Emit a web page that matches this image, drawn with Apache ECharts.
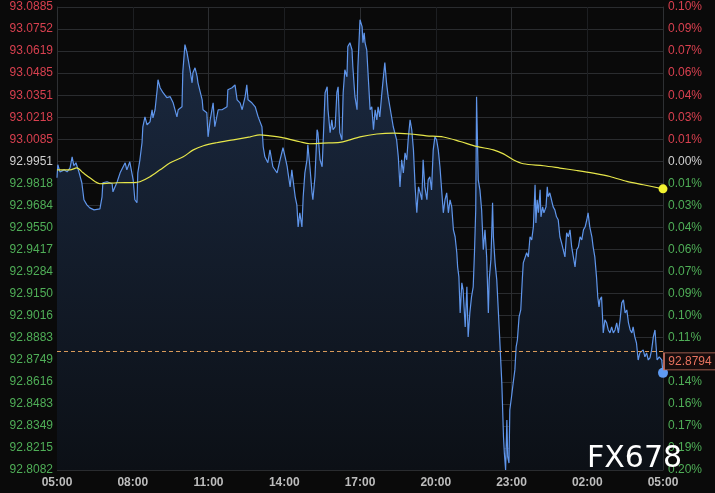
<!DOCTYPE html>
<html><head><meta charset="utf-8">
<style>html,body{margin:0;padding:0;background:#0a0a0a;}#c{width:715px;height:493px;}</style>
<script src="https://cdn.jsdelivr.net/npm/echarts@6/dist/echarts.min.js"></script>
</head><body><div id="c"></div>
<script>
const xTicks = ['05:00','08:00','11:00','14:00','17:00','20:00','23:00','02:00','05:00'];
const leftTicks = ['92.8082','92.8215','92.8349','92.8483','92.8616','92.8749','92.8883','92.9016','92.9150','92.9284','92.9417','92.9550','92.9684','92.9818','92.9951','93.0085','93.0218','93.0351','93.0485','93.0619','93.0752','93.0885'];
const rightTicks = ['0.20%','0.19%','0.17%','0.16%','0.14%','0.13%','0.11%','0.10%','0.09%','0.07%','0.06%','0.04%','0.03%','0.01%','0.00%','0.01%','0.03%','0.04%','0.06%','0.07%','0.09%','0.10%'];
const refPrice = 92.9951;
const lastPrice = 92.8794;
const watermark = 'FX678';

// minutes after 05:00
const times = [0,2,7,17,24,31,36,40,45,52,
59,64,71,78,88,102,107,109,119,131,
133,143,150,162,166,173,181,185,190,192,
197,202,204,209,214,221,226,228,233,238,
240,245,252,261,269,276,285,288,297,299,
304,309,311,316,321,323,328,333,335,345,
347,356,359,364,371,375,383,392,404,406,
416,423,428,435,440,447,451,454,463,471,
478,487,490,494,501,506,513,523,530,537,
542,547,549,554,558,566,570,573,577,582,
585,589,594,596,601,606,608,613,618,620,
625,630,632,637,642,644,649,653,656,661,
665,668,672,677,680,684,689,691,696,701,
703,708,713,715,720,725,727,730,732,736,
740,744,748,752,756,760,763,767,772,775,
779,783,787,791,795,799,803,807,811,815,
819,823,827,831,835,839,843,847,851,855,
859,863,867,870,874,879,882,886,890,894,
898,902,906,910,914,918,922,926,930,934,
938,942,946,950,952,955,958,962,965,970,
974,977,981,985,989,992,995,997,1001,1005,
1009,1013,1017,1021,1025,1027,1031,1033,1035,1037,
1041,1045,1047,1051,1054,1057,1061,1063,1066,1069,
1071,1074,1076,1080,1084,1088,1091,1094,1098,1102,
1106,1108,1112,1116,1120,1124,1128,1132,1136,1138,
1141,1144,1148,1150,1154,1157,1162,1165,1167,1171,
1175,1179,1183,1187,1191,1195,1199,1203,1207,1211,
1215,1219,1223,1227,1231,1235,1239,1243,1247,1251,
1255,1259,1262,1266,1271,1274,1278,1282,1285,1288,
1290,1294,1297,1298,1302,1306,1310,1314,1318,1322,
1326,1330,1334,1338,1342,1346,1350,1354,1358,1362,
1366,1369,1373,1377,1381,1385,1389,1393,1397,1401,
1405,1409,1413,1417,1421,1423,1426,1431,1435,1437,1440];

const prices = [92.9851,92.9930,92.9887,92.9899,92.9887,92.9911,92.9978,92.9924,92.9942,92.9887,
92.9821,92.9718,92.9687,92.9669,92.9657,92.9663,92.9736,92.9821,92.9827,92.9815,
92.9766,92.9827,92.9881,92.9942,92.9899,92.9948,92.9839,92.9718,92.9700,92.9881,
92.9960,93.0063,93.0160,93.0220,93.0172,93.0190,93.0263,93.0214,93.0263,93.0384,
93.0445,93.0396,93.0366,93.0336,93.0342,93.0305,93.0220,93.0263,93.0281,93.0493,
93.0657,93.0608,93.0578,93.0505,93.0426,93.0487,93.0517,93.0463,93.0426,93.0323,
93.0263,93.0245,93.0099,93.0202,93.0305,93.0160,93.0263,93.0263,93.0281,93.0384,
93.0396,93.0414,93.0323,93.0305,93.0263,93.0342,93.0414,93.0323,93.0305,93.0281,
93.0220,93.0160,93.0039,92.9978,92.9942,93.0020,92.9918,92.9881,92.9960,93.0033,
92.9978,92.9918,92.9881,92.9796,92.9899,92.9736,92.9687,92.9554,92.9639,92.9554,
92.9736,92.9881,92.9960,93.0051,92.9918,92.9760,92.9718,92.9857,93.0142,93.0124,
92.9960,92.9918,93.0039,93.0366,93.0402,93.0263,93.0124,93.0202,93.0142,93.0160,
93.0366,93.0402,93.0124,93.0081,93.0366,93.0505,93.0463,93.0645,93.0669,93.0626,
93.0523,93.0342,93.0263,93.0523,93.0808,93.0766,93.0669,93.0729,93.0669,93.0626,
93.0445,93.0263,93.0281,93.0142,93.0263,93.0202,93.0281,93.0220,93.0366,93.0445,
93.0548,93.0426,93.0342,93.0281,93.0281,93.0160,93.0160,93.0081,92.9978,92.9796,
92.9960,92.9881,93.0002,92.9960,93.0099,93.0202,93.0142,93.0020,92.9796,92.9639,
92.9796,92.9760,92.9718,92.9960,92.9796,92.9718,92.9839,92.9857,92.9778,93.0020,
93.0099,93.0081,93.0020,92.9918,92.9778,92.9639,92.9718,92.9760,92.9639,92.9718,
92.9675,92.9536,92.9494,92.9397,92.9312,92.9251,92.9033,92.9215,92.9172,92.8948,
92.9191,92.8888,92.9033,92.9130,92.9191,92.9397,92.9657,93.0342,92.9839,92.9778,
92.9657,92.9415,92.9536,92.9372,92.9033,92.9233,92.9354,92.9518,92.9700,92.9494,
92.9336,92.9233,92.9130,92.8930,92.8767,92.8609,92.8282,92.8185,92.8082,92.8385,
92.8161,92.8124,92.8446,92.8524,92.8609,92.8688,92.8827,92.8870,92.9009,92.9051,
92.9251,92.9336,92.9336,92.9397,92.9372,92.9494,92.9475,92.9554,92.9809,92.9578,
92.9718,92.9639,92.9778,92.9615,92.9675,92.9639,92.9675,92.9796,92.9736,92.9760,
92.9718,92.9675,92.9657,92.9615,92.9597,92.9494,92.9457,92.9415,92.9372,92.9518,
92.9494,92.9536,92.9433,92.9372,92.9312,92.9415,92.9433,92.9494,92.9475,92.9536,
92.9554,92.9597,92.9639,92.9554,92.9494,92.9433,92.9372,92.9251,92.9130,92.9069,
92.9112,92.9130,92.8973,92.8912,92.8991,92.8973,92.8930,92.8912,92.8948,92.8912,
92.8930,92.8973,92.8912,92.8991,92.9094,92.9112,92.9033,92.9051,92.8973,92.8930,
92.8912,92.8948,92.8888,92.8851,92.8748,92.8791,92.8797,92.8809,92.8767,92.8791,
92.8748,92.8761,92.8809,92.8888,92.8930,92.8851,92.8748,92.8767,92.8779,92.8748,92.8670];

const maTimes = [0,31,47,62,78,102,142,181,197,221,245,269,300,324,348,379,419,459,482,506,538,577,601,633,672,696,720,760,799,839,878,918,958,997,1037,1061,1084,1108,1156,1195,1235,1274,1314,1354,1393,1440];
const maValues = [92.9899,92.9899,92.9911,92.9881,92.9851,92.9815,92.9821,92.9822,92.9827,92.9857,
92.9899,92.9942,92.9978,93.0020,93.0045,93.0063,93.0081,93.0099,93.0111,93.0105,
93.0093,93.0069,93.0057,93.0061,93.0065,93.0081,93.0099,93.0116,93.0122,93.0116,
93.0105,93.0098,93.0071,93.0041,93.0020,92.9996,92.9960,92.9936,92.9924,92.9910,
92.9895,92.9879,92.9859,92.9829,92.9809,92.9784];

const yMin = 92.8082;
const yStep = 0.0133476;
const yMax = Number((yMin + (leftTicks.length - 1) * yStep).toFixed(7));
const tickIdx = v => Math.round((v - yMin) / yStep);
const labelColor = v => {
  const i = tickIdx(v), r = leftTicks.indexOf(refPrice.toFixed(4));
  return i > r ? '#d8404f' : (i === r ? '#d0d0d0' : '#4fae57');
};

const chart = echarts.init(document.getElementById('c'), null, {renderer: 'canvas'});
const lastT = times[times.length - 1];
const yAxisBase = {
  type: 'value', min: yMin, max: yMax, interval: yStep, scale: true,
  splitLine: {show: false},
  axisLine: {show: true, lineStyle: {color: '#2e3033'}},
  axisTick: {show: false}
};
chart.setOption({
  backgroundColor: '#0a0a0a',
  animation: false,
  grid: {left: 57, right: 52, top: 7, bottom: 23},
  xAxis: {
    type: 'value', min: 0, max: 1440, interval: 180,
    axisLine: {show: false}, axisTick: {show: false},
    axisLabel: {
      color: '#bdbdbd', fontSize: 12, fontWeight: 'bold', fontFamily: 'Liberation Sans, Arial',
      margin: 7, formatter: v => xTicks[Math.round(v / 180)]
    },
    splitLine: {show: true, lineStyle: {color: ['#2c2e31', '#1d1f22'], width: 1}}
  },
  yAxis: [
    Object.assign({}, yAxisBase, {
      position: 'left',
      splitLine: {show: true, lineStyle: {color: '#2a2c2f', width: 1}},
      axisLabel: {
        fontSize: 12, fontFamily: 'Liberation Sans, Arial', margin: 4,
        formatter: v => leftTicks[tickIdx(v)],
        color: v => labelColor(v)
      }
    }),
    Object.assign({}, yAxisBase, {
      position: 'right',
      axisLabel: {
        fontSize: 12, fontFamily: 'Liberation Sans, Arial', margin: 5,
        formatter: v => rightTicks[tickIdx(v)],
        color: v => labelColor(v)
      }
    })
  ],
  series: [
    {
      type: 'line', name: 'price', yAxisIndex: 0,
      data: times.map((t, i) => [t, prices[i]]),
      showSymbol: false, symbol: 'none',
      lineStyle: {color: '#5f95ea', width: 1.2},
      areaStyle: {
        color: new echarts.graphic.LinearGradient(0, 0, 0, 1, [
          {offset: 0, color: '#1b2a42'},
          {offset: 1, color: '#0c1016'}
        ]),
        opacity: 1
      },
      z: 3,
      markLine: {
        silent: true, symbol: 'none',
        lineStyle: {color: '#f0a860', type: [4, 3], width: 1, opacity: 0.9},
        label: {show: false},
        data: [{yAxis: lastPrice}]
      },
      markPoint: {
        silent: true,
        data: [
          {
            coord: [lastT, prices[prices.length - 1]], symbol: 'circle', symbolSize: 10,
            itemStyle: {color: '#5e9bf2'}, label: {show: false}
          },
          {
            coord: [lastT, lastPrice], symbol: 'rect', symbolSize: [52, 17], symbolOffset: [27, 9],
            itemStyle: {color: '#160c0c', borderColor: '#c8705f', borderWidth: 1},
            label: {
              show: true, position: 'inside', formatter: lastPrice.toFixed(4),
              color: '#e8735f', fontSize: 12, fontFamily: 'Liberation Sans, Arial'
            }
          }
        ]
      }
    },
    {
      type: 'line', name: 'ma', yAxisIndex: 0,
      data: maTimes.map((t, i) => [t, maValues[i]]),
      showSymbol: false, symbol: 'none', smooth: 0.3,
      lineStyle: {color: '#e6e64a', width: 1.2},
      z: 4,
      markPoint: {
        silent: true,
        data: [{
          coord: [maTimes[maTimes.length - 1], maValues[maValues.length - 1]],
          symbol: 'circle', symbolSize: 9, itemStyle: {color: '#f2f230'}, label: {show: false}
        }]
      }
    }
  ],
  graphic: [{
    type: 'text', left: 587, top: 444, z: 100,
    style: {text: watermark, fill: '#ffffff', font: '30px "DejaVu Sans"'}
  }]
});
</script>
</body></html>
